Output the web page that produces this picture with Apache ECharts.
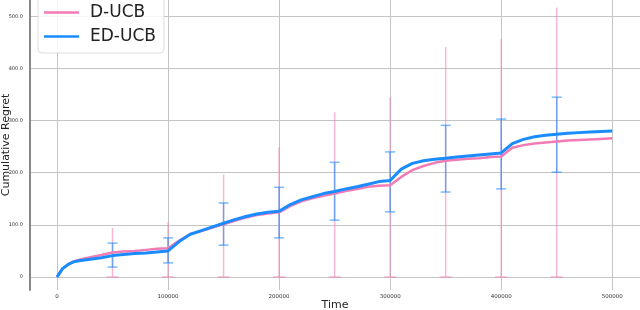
<!DOCTYPE html>
<html>
<head>
<meta charset="utf-8">
<script src="https://cdn.jsdelivr.net/npm/echarts@6/dist/echarts.min.js"></script>
<style>html,body{margin:0;padding:0;background:#fff}#c{width:640px;height:310px}</style>
</head>
<body>
<div id="c"></div>
<script>
const seriesNames = ['D-UCB', 'ED-UCB'];
const xTicks = [0, 100000, 200000, 300000, 400000, 500000];
const yTicks = [0, 100, 200, 300, 400, 500];
const times = [0, 2500, 5000, 10000, 15000, 20000, 30000, 40000, 50000, 60000, 70000, 80000, 90000, 100000,
  110000, 120000, 130000, 140000, 150000, 160000, 170000, 180000, 190000, 200000,
  210000, 220000, 230000, 240000, 250000, 260000, 270000, 280000, 290000, 300000,
  310000, 320000, 330000, 340000, 350000, 360000, 370000, 380000, 390000, 400000,
  410000, 420000, 430000, 440000, 450000, 460000, 470000, 480000, 490000, 500000];
const dUcb = [0, 8, 16, 24, 30, 33, 38, 42, 47, 49, 50, 52, 54, 55,
  70, 82, 88, 95, 101, 108, 114, 119, 122, 124,
  136, 145, 151, 156, 160, 165, 169, 173, 175, 176,
  192, 205, 213, 219, 223, 225, 227, 228, 230, 231,
  248, 253, 256, 258, 260, 262, 263, 264, 265, 266];
const edUcb = [0, 8, 16, 24, 29, 31, 34, 37, 41, 43, 45, 46, 48, 50,
  68, 82, 89, 96, 103, 110, 116, 121, 124, 126,
  139, 148, 154, 160, 164, 169, 173, 178, 183, 185,
  207, 218, 223, 226, 228, 230, 232, 234, 236, 238,
  256, 264, 269, 272, 274, 276, 277, 278, 279, 280];
const errTimes = [50000, 100000, 150000, 200000, 250000, 300000, 350000, 400000, 450000];
const dUcbLow = [0, 0, 0, 0, 0, 0, 0, 0, 0];
const dUcbHigh = [94, 105, 197, 249, 316, 345, 441, 456, 517];
const edUcbLow = [19, 27, 61, 75, 109, 125, 163, 169, 201];
const edUcbHigh = [65, 75, 142, 172, 220, 240, 291, 303, 345];

const PINK = '#f27bb5';
const BLUE = '#1a8cff';

function pairs(xs, ys) { return xs.map((x, i) => [x, ys[i]]); }
function errData(xs, lo, hi) { return xs.map((x, i) => [x, lo[i], hi[i]]); }

function errRender(color, capLow, capHigh, capW) {
  return function (params, api) {
    const x = api.value(0);
    const p1 = api.coord([x, api.value(1)]);
    const p2 = api.coord([x, api.value(2)]);
    const style = { stroke: color, lineWidth: 1.5 };
    const children = [
      { type: 'line', shape: { x1: p1[0], y1: p1[1], x2: p2[0], y2: p2[1] }, style: style }
    ];
    if (capLow) children.push({ type: 'line', shape: { x1: p1[0] - capW, y1: p1[1], x2: p1[0] + capW, y2: p1[1] }, style: style });
    if (capHigh) children.push({ type: 'line', shape: { x1: p2[0] - capW, y1: p2[1], x2: p2[0] + capW, y2: p2[1] }, style: style });
    return { type: 'group', children: children };
  };
}

const chart = echarts.init(document.getElementById('c'), null, { renderer: 'canvas' });
const FONT = 'DejaVu Sans';
chart.setOption({
  animation: false,
  textStyle: { fontFamily: FONT },
  grid: { left: 30, right: 0, top: 0, bottom: 20, containLabel: false, outerBoundsMode: 'none' },
  legend: {
    data: seriesNames,
    orient: 'vertical',
    left: 38,
    top: -6,
    icon: 'rect',
    itemWidth: 35,
    itemHeight: 2.5,
    itemGap: 7,
    padding: [10, 8, 8, 6],
    backgroundColor: 'rgba(255,255,255,0.85)',
    borderColor: '#dddddd',
    borderWidth: 1,
    borderRadius: 4,
    textStyle: { fontSize: 17, color: '#222', fontFamily: FONT, padding: [0, 0, 0, 6] }
  },
  xAxis: {
    type: 'value',
    min: -24300,
    max: 525000,
    name: 'Time',
    nameLocation: 'middle',
    nameGap: 10,
    nameMoveOverlap: false,
    nameTextStyle: { fontSize: 11, color: '#222', fontFamily: FONT, verticalAlign: 'top' },
    axisLine: { show: false },
    axisTick: { show: false, customValues: xTicks },
    axisLabel: { customValues: xTicks, fontSize: 5.5, color: '#333', margin: 4,
      formatter: v => String(v) },
    splitLine: { show: true, lineStyle: { color: '#c4c4c4', width: 1 } }
  },
  yAxis: {
    type: 'value',
    min: -25,
    max: 531.5,
    name: 'Cumulative Regret',
    nameLocation: 'middle',
    nameGap: 18,
    nameMoveOverlap: false,
    nameTextStyle: { fontSize: 11, color: '#222', fontFamily: FONT },
    axisLine: { show: true, onZero: false, lineStyle: { color: '#888', width: 2 } },
    axisTick: { show: false, customValues: yTicks },
    axisLabel: { customValues: yTicks, fontSize: 5, color: '#333', margin: 7,
      formatter: v => v === 0 ? '0' : v.toFixed(1) },
    splitLine: { show: true, lineStyle: { color: '#c4c4c4', width: 1 } }
  },
  series: [
    { type: 'custom', name: 'errD', data: errData(errTimes, dUcbLow, dUcbHigh),
      renderItem: errRender('rgba(242,123,181,0.55)', true, false, 6), z: 1, silent: true },
    { type: 'custom', name: 'errED', data: errData(errTimes, edUcbLow, edUcbHigh),
      renderItem: errRender('rgba(26,140,255,0.6)', true, true, 5), z: 1, silent: true },
    { type: 'line', name: 'D-UCB', data: pairs(times, dUcb), showSymbol: false, symbol: 'none',
      color: PINK, lineStyle: { color: PINK, width: 2.5 }, z: 3 },
    { type: 'line', name: 'ED-UCB', data: pairs(times, edUcb), showSymbol: false, symbol: 'none',
      color: BLUE, lineStyle: { color: BLUE, width: 3 }, z: 4 }
  ]
});
</script>
</body>
</html>
